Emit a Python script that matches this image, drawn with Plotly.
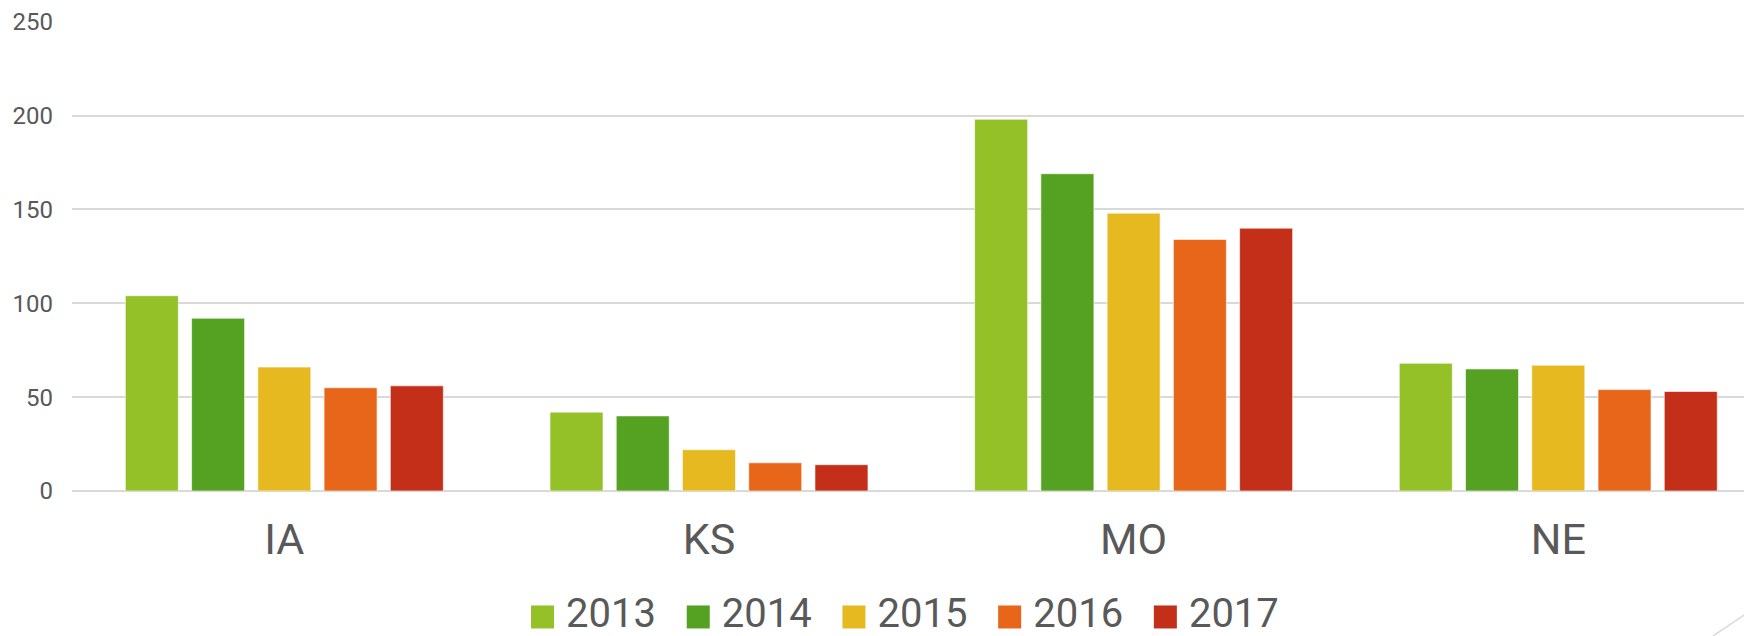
import plotly.graph_objects as go

# Data
states = ["IA", "KS", "MO", "NE"]
years = ["2013", "2014", "2015", "2016", "2017"]
v2013 = [104, 42, 198, 68]
v2014 = [92, 40, 169, 65]
v2015 = [66, 22, 148, 67]
v2016 = [55, 15, 134, 54]
v2017 = [56, 14, 140, 53]
series = [v2013, v2014, v2015, v2016, v2017]
colors = ["#93C127", "#55A122", "#E5B91F", "#E8661A", "#C42F1A"]

FONT = "Roboto, 'Open Sans', sans-serif"
TEXT = "#595959"
GRID = "#D9D9D9"

fig = go.Figure()

# Grouped bars, one trace per year
for year, vals, col in zip(years, series, colors):
    fig.add_trace(go.Bar(
        x=states, y=vals, name=year,
        marker_color=col,
        marker_line=dict(color="rgba(255,255,255,0.6)", width=1),
        showlegend=False,
    ))

# Legend drawn as square markers on a helper axis so the swatches can be large
fig.add_trace(go.Scatter(
    x=list(range(len(years))), y=[0] * len(years),
    xaxis="x2", yaxis="y2",
    mode="markers+text",
    marker=dict(symbol="square", size=23, color=colors, line_width=0),
    text=["\u2009" + y for y in years], textposition="middle right",
    textfont=dict(family=FONT, size=40, color=TEXT),
    hoverinfo="skip", showlegend=False, cliponaxis=False,
))

fig.update_layout(
    width=1752, height=636,
    margin=dict(l=64, r=0, t=0, b=0, autoexpand=False),
    paper_bgcolor="white", plot_bgcolor="white",
    font=dict(family=FONT, color=TEXT),
    barmode="group", bargap=0.22, bargroupgap=0.2,
    xaxis=dict(
        range=[-0.5, 3.475], showgrid=False, zeroline=False,
        showline=False, ticks="", automargin=False,
        tickfont=dict(size=43, color=TEXT),
        ticklabelstandoff=19,
    ),
    yaxis=dict(
        domain=[0.2406, 0.9785], range=[0, 250], dtick=50,
        showgrid=True, gridcolor=GRID, gridwidth=1.5,
        zeroline=True, zerolinecolor=GRID, zerolinewidth=1.5,
        showline=False, ticks="", automargin=False,
        tickfont=dict(size=24, color=TEXT),
        ticklabelstandoff=18,
    ),
    xaxis2=dict(
        domain=[0, 1], anchor="y2", range=[-3.022, 7.819],
        visible=False, automargin=False,
    ),
    yaxis2=dict(
        domain=[0, 0.085], anchor="x2", range=[-1, 1],
        visible=False, automargin=False,
    ),
    shapes=[dict(
        type="line", xref="paper", yref="paper",
        x0=0.9722, y0=0.0126, x1=1.0, y1=0.0625,
        line=dict(color=GRID, width=1.5),
    )],
)

fig.write_html("out.html")
